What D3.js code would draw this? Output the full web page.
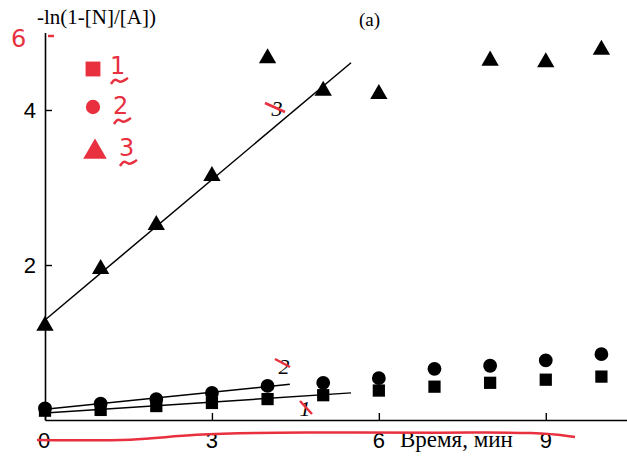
<!DOCTYPE html>
<html lang="en">
<head>
  <meta charset="UTF-8">
  <title>Kinetics (a)</title>
  <script src="https://d3js.org/d3.v7.min.js"></script>
  <style>
    body { margin: 0; background: #fff; }
    .tick-label { font-family: "Liberation Sans", Arial, sans-serif; font-size: 22px; }
    .serif { font-family: "Liberation Serif", "Times New Roman", serif; }
  </style>
</head>
<body>
  <div id="chart"></div>

  <script>
    // time, min
    const time = [0, 1, 2, 3, 4, 5, 6, 7, 8, 9, 10];
    // series 1 (squares), 2 (circles), 3 (triangles) : -ln(1-[N]/[A])
    const series1 = [0.12, 0.13, 0.18, 0.22, 0.27, 0.32, 0.38, 0.43, 0.48, 0.52, 0.56];
    const series2 = [0.15, 0.21, 0.27, 0.35, 0.44, 0.48, 0.54, 0.66, 0.70, 0.77, 0.85];
    const time3 = [0, 1, 2, 3, 4, 5, 6, 8, 9, 10];
    const series3 = [1.23, 1.96, 2.53, 3.16, 4.68, 4.26, 4.22, 4.65, 4.63, 4.79];
    // fitted lines: [x0, y0], [x1, y1]
    const fit1 = [[0, 0.09], [5.5, 0.35]];
    const fit2 = [[0, 0.14], [4.4, 0.46]];
    const fit3 = [[0, 1.29], [5.5, 4.61]];
    const xTicks = [0, 3, 6, 9];
    const yTicks = [2, 4];

    const W = 627, H = 461;
    const svg = d3.select("#chart").append("svg")
      .attr("width", W).attr("height", H);

    const x = d3.scaleLinear().domain([0, 10.46]).range([45, 627]);
    const y = d3.scaleLinear().domain([0, 5]).range([420, 32.5]);

    // axes (inward ticks, no end caps)
    const xAxis = svg.append("g")
      .attr("transform", `translate(0,${y(0)})`)
      .call(d3.axisBottom(x).tickValues(xTicks).tickSize(-7).tickSizeOuter(0).tickFormat(""));
    xAxis.select(".domain").attr("stroke-width", 1.6);
    xAxis.selectAll(".tick line").attr("stroke-width", 1.4);

    const yAxis = svg.append("g")
      .attr("transform", `translate(${x(0)},0)`)
      .call(d3.axisLeft(y).tickValues(yTicks).tickSize(-7).tickSizeOuter(0).tickFormat(""));
    yAxis.select(".domain").attr("stroke-width", 1.6);
    yAxis.selectAll(".tick line").attr("stroke-width", 1.4);

    // tick labels
    svg.selectAll(".xl").data(xTicks).enter().append("text")
      .attr("class", "tick-label")
      .attr("x", d => x(d) - (d === 0 ? 1 : 0)).attr("y", 448)
      .attr("text-anchor", "middle").text(d => d);
    svg.selectAll(".yl").data(yTicks).enter().append("text")
      .attr("class", "tick-label")
      .attr("x", 36).attr("y", d => y(d) + 8)
      .attr("text-anchor", "end").text(d => d);

    // axis titles
    svg.append("text").attr("class", "serif")
      .attr("x", 37).attr("y", 24).attr("font-size", 21)
      .text("-ln(1-[N]/[A])");
    svg.append("text").attr("class", "serif")
      .attr("x", 359).attr("y", 26).attr("font-size", 19)
      .text("(a)");
    svg.append("text").attr("class", "serif")
      .attr("x", 400).attr("y", 447).attr("font-size", 23)
      .text("Время, мин");

    // fit lines
    const line = d3.line().x(d => x(d[0])).y(d => y(d[1]));
    [fit1, fit2, fit3].forEach(f => {
      svg.append("path").datum(f)
        .attr("d", line).attr("fill", "none")
        .attr("stroke", "#000").attr("stroke-width", 1.5);
    });

    // markers
    const sq = d3.symbol().type(d3.symbolSquare).size(150);
    const ci = d3.symbol().type(d3.symbolCircle).size(150);
    const tr = d3.symbol().type(d3.symbolTriangle).size(130);

    svg.selectAll(".s1").data(time).enter().append("path")
      .attr("d", sq).attr("transform", (d, i) => `translate(${x(d)},${y(series1[i])})`);
    svg.selectAll(".s2").data(time).enter().append("path")
      .attr("d", ci).attr("transform", (d, i) => `translate(${x(d)},${y(series2[i])})`);
    svg.selectAll(".s3").data(time3).enter().append("path")
      .attr("d", tr).attr("transform", (d, i) => `translate(${x(d)},${y(series3[i]) + 1})`);

    // curve labels
    const curveLabels = [
      { t: "3", px: 277, py: 116 },
      { t: "2", px: 284, py: 374 },
      { t: "1", px: 305, py: 416 }
    ];
    svg.selectAll(".cl").data(curveLabels).enter().append("text")
      .attr("class", "serif").attr("font-style", "italic").attr("font-size", 22)
      .attr("text-anchor", "middle")
      .attr("x", d => d.px).attr("y", d => d.py).text(d => d.t);

    // red hand-written annotations
    const red = "#e8303f";
    const strikes = [
      [[265, 103], [285, 112]],
      [[275, 359], [290, 367]],
      [[300, 401], [312, 414]]
    ];
    strikes.forEach(s => svg.append("path")
      .attr("d", d3.line()(s)).attr("stroke", red).attr("stroke-width", 2.5).attr("fill", "none"));

    svg.append("text").attr("x", 11).attr("y", 47).attr("fill", red)
      .attr("font-family", "DejaVu Sans").attr("font-size", 24).text("6");
    svg.append("path").attr("d", d3.line()([[48, 36], [54, 36]]))
      .attr("stroke", red).attr("stroke-width", 2.5);

    const redSym = [
      { s: d3.symbolSquare, size: 220, px: 93, py: 69, t: "1", tx: 110, ty: 74 },
      { s: d3.symbolCircle, size: 160, px: 93, py: 107, t: "2", tx: 113, ty: 114 },
      { s: d3.symbolTriangle, size: 240, px: 95, py: 152, t: "3", tx: 119, ty: 156 }
    ];
    const tilde = d3.line().curve(d3.curveBasis);
    redSym.forEach(d => {
      svg.append("path").attr("d", d3.symbol().type(d.s).size(d.size)())
        .attr("transform", `translate(${d.px},${d.py})`).attr("fill", red);
      svg.append("text").attr("x", d.tx).attr("y", d.ty).attr("fill", red)
        .attr("font-family", "DejaVu Sans").attr("font-size", 24).text(d.t);
      svg.append("path")
        .attr("d", tilde([[0, 6], [4, 0], [9, 5], [14, 2], [17, 0]]))
        .attr("transform", `translate(${d.tx + 1},${d.ty + 4})`)
        .attr("stroke", red).attr("stroke-width", 2.5).attr("fill", "none");
    });

    // red wavy underline along the x axis labels
    const wave = [[37, 440], [140, 441], [185, 434], [300, 432], [450, 433], [540, 432], [575, 437]];
    svg.append("path").datum(wave)
      .attr("d", d3.line().curve(d3.curveBasis))
      .attr("stroke", red).attr("stroke-width", 2.5).attr("fill", "none");
  </script>
</body>
</html>
